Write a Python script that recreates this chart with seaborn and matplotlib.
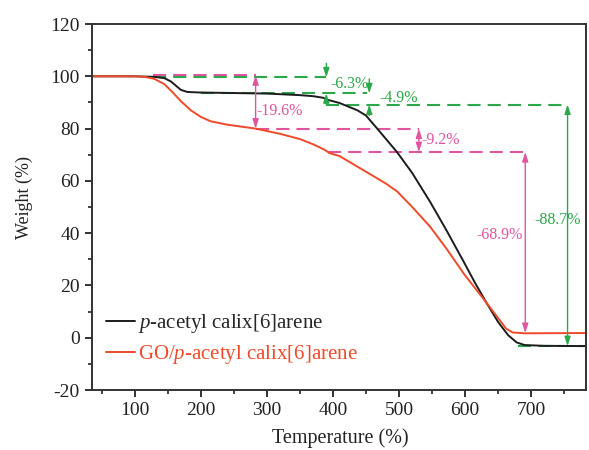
import matplotlib
matplotlib.use("Agg")
import matplotlib.pyplot as plt
from matplotlib.ticker import MultipleLocator
import seaborn as sns

# TGA curves
temp_pure = [35, 100, 130, 145, 155, 162, 170, 180, 200, 250, 300, 350, 370, 385, 392,
             410, 437, 450, 467, 482, 497, 520, 547, 572, 598, 615, 632, 650, 665, 678,
             690, 720, 783]
weight_pure = [100, 100, 99.8, 99.3, 98, 96.5, 94.8, 94, 93.8, 93.6, 93.4, 92.8, 92.4, 91.8, 91,
               89.8, 87, 85, 80, 75.5, 71, 63, 52, 41, 29, 21, 13.5, 6, 1, -1.8,
               -2.8, -3.1, -3.2]

temp_go = [35, 100, 115, 130, 145, 157, 170, 185, 200, 215, 240, 283, 320, 350, 370, 380,
           388, 395, 410, 430, 460, 480, 497, 520, 547, 572, 598, 615, 632, 650, 662, 672,
           690, 783]
weight_go = [100, 100, 99.8, 99, 97, 94, 90.5, 87, 84.5, 82.8, 81.5, 80, 78, 76, 74, 72.8,
             71.8, 70.6, 69.5, 66.5, 62, 59, 56, 50, 42.5, 34, 24.5, 19, 13.5, 7.5, 3.5, 2,
             1.7, 1.8]

labels = [r"$\mathit{p}$-acetyl calix[6]arene", r"GO/$\mathit{p}$-acetyl calix[6]arene"]

# annotation levels
mag_levels = [100.4, 80, 71]
green_levels = [99.6, 93.5, 89.2, -3.2]
mag_texts = ["-19.6%", "-9.2%", "-68.9%"]
green_texts = ["-6.3%", "-4.9%", "-88.7%"]

BLACK = "#1c1c1c"
RED = "#ee4a2a"
MAG = "#e0559e"
GREEN = "#2aa84a"

sns.set_style("ticks")
plt.rcParams["font.family"] = ["Liberation Serif", "DejaVu Serif"]
plt.rcParams["mathtext.fontset"] = "custom"
plt.rcParams["mathtext.rm"] = "Liberation Serif"
plt.rcParams["mathtext.it"] = "Liberation Serif:italic"
plt.rcParams["axes.unicode_minus"] = False

fig = plt.figure(figsize=(5.89, 4.5), dpi=100)
ax = fig.add_axes([0.1557, 0.1333, 0.8393, 0.8133])

dash = (0, (6.3, 3.4))

# dashed guide lines
ax.hlines(mag_levels[0], 127, 283, color=MAG, lw=1.5, linestyles=dash)
ax.hlines(mag_levels[1], 283, 530, color=MAG, lw=1.5, linestyles=dash)
ax.hlines(mag_levels[2], 392, 691, color=MAG, lw=1.5, linestyles=dash)
ax.hlines(green_levels[0], 127, 390, color=GREEN, lw=1.5, linestyles=dash)
ax.hlines(green_levels[1], 200, 452, color=GREEN, lw=1.5, linestyles=dash)
ax.hlines(green_levels[2], 390, 755, color=GREEN, lw=1.5, linestyles=dash)
ax.hlines(green_levels[3], 680, 783, color=GREEN, lw=1.5, linestyles=dash)

sns.lineplot(x=temp_pure, y=weight_pure, color=BLACK, lw=1.4, ax=ax, label=labels[0])
sns.lineplot(x=temp_go, y=weight_go, color=RED, lw=1.4, ax=ax, label=labels[1])

both = dict(arrowstyle="<|-|>,head_length=0.55,head_width=0.18", lw=1.0,
            shrinkA=0, shrinkB=0)
one = dict(arrowstyle="-|>,head_length=0.55,head_width=0.18", lw=1.0,
           shrinkA=0, shrinkB=0)

# magenta arrows
ax.annotate("", xy=(283, mag_levels[1]), xytext=(283, mag_levels[0]),
            arrowprops=dict(both, color=MAG))
ax.annotate("", xy=(530, mag_levels[2]), xytext=(530, mag_levels[1]),
            arrowprops=dict(both, color=MAG))
ax.annotate("", xy=(691, 1.8), xytext=(691, mag_levels[2]),
            arrowprops=dict(both, color=MAG))
# green arrows
ax.annotate("", xy=(390, green_levels[0]), xytext=(390, 105),
            arrowprops=dict(one, color=GREEN))
ax.annotate("", xy=(390, green_levels[1]), xytext=(390, 89.2),
            arrowprops=dict(one, color=GREEN))
ax.annotate("", xy=(455, green_levels[1]), xytext=(455, 99),
            arrowprops=dict(one, color=GREEN))
ax.annotate("", xy=(455, green_levels[2]), xytext=(455, 85),
            arrowprops=dict(one, color=GREEN))
ax.annotate("", xy=(755, green_levels[3]), xytext=(755, green_levels[2]),
            arrowprops=dict(both, color=GREEN))

fs = 11.5
ax.text(284, 86.7, mag_texts[0], color=MAG, fontsize=fs, ha="left", va="center")
ax.text(534, 75.6, mag_texts[1], color=MAG, fontsize=fs, ha="left", va="center")
ax.text(687, 39.3, mag_texts[2], color=MAG, fontsize=fs, ha="right", va="center")
ax.text(396, 97, green_texts[0], color=GREEN, fontsize=fs, ha="left", va="center")
ax.text(470, 91.8, green_texts[1], color=GREEN, fontsize=fs, ha="left", va="center")
ax.text(740, 45, green_texts[2], color=GREEN, fontsize=fs, ha="center", va="center")

ax.set_xlim(35, 783)
ax.set_ylim(-20, 120)
ax.xaxis.set_major_locator(MultipleLocator(100))
ax.xaxis.set_minor_locator(MultipleLocator(50))
ax.yaxis.set_major_locator(MultipleLocator(20))
ax.yaxis.set_minor_locator(MultipleLocator(10))
ax.tick_params(which="major", length=5, width=1.3, labelsize=14, colors="#222222")
ax.tick_params(which="minor", length=3, width=1.2, colors="#222222")
for s in ax.spines.values():
    s.set_linewidth(1.4)
    s.set_color("#333333")

ax.set_xlabel("Temperature (%)", fontsize=14.5, color="#222222")
ax.set_ylabel("Weight (%)", fontsize=13, color="#222222")
ax.xaxis.set_label_coords(0.502, -0.105)
ax.yaxis.set_label_coords(-0.119, 0.527)

leg = ax.legend(loc="lower left", bbox_to_anchor=(0.0, 0.025), frameon=False,
                fontsize=15, handlelength=1.4, handletextpad=0.1, labelspacing=0.4,
                borderaxespad=0.3)
leg.get_texts()[1].set_color(RED)

fig.savefig("out.png", dpi=100)
